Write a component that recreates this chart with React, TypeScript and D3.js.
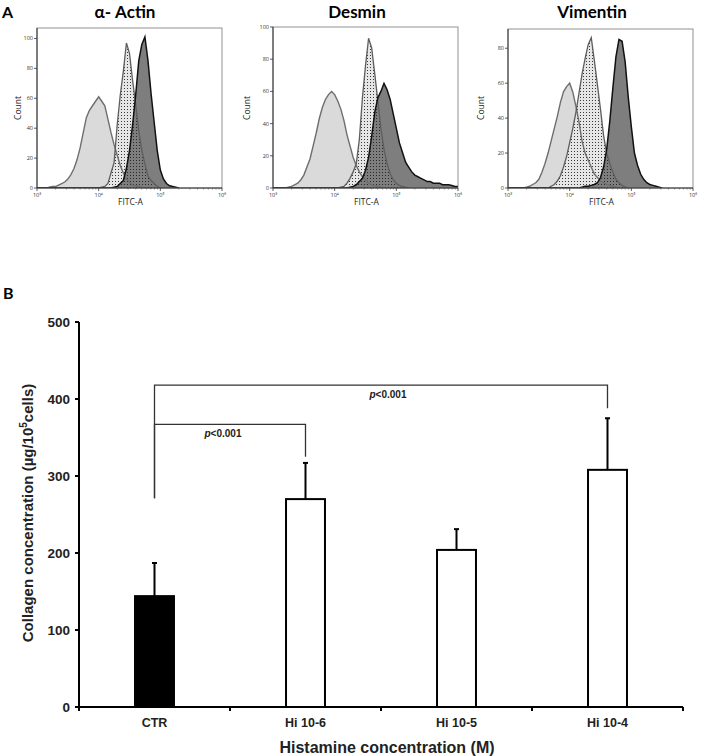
import * as d3 from "d3";

// ---- panel A: flow cytometry histograms (FITC-A, log10 bins) ----
const fluorBins = d3.range(0, 61).map((i) => 3 + i * 0.05);

const actinLight = [0, 0, 0, 0, 0.5, 1, 1, 2, 3, 4, 6, 9, 13, 19, 27, 37, 47, 52, 55, 58, 61, 58, 55, 46, 37, 29, 22, 15, 10, 6, 4, 2, 1.5, 1, 0.5, 0];
const actinDotted = [0, 0, 0, 0, 0, 0, 0, 0, 0, 0, 0, 0, 0, 0, 0, 0, 0, 0, 0, 0, 0, 0.5, 1, 3, 10, 17, 42, 62, 78, 97, 90, 72, 56, 38, 25, 16, 8, 5, 3, 1, 0];
const actinDark = [0, 0, 0, 0, 0, 0, 0, 0, 0, 0, 0, 0, 0, 0, 0, 0, 0, 0, 0, 0, 0, 0, 0, 0, 0, 0.5, 1, 3, 5, 13, 25, 42, 62, 85, 96, 101, 85, 63, 44, 25, 12, 6, 3, 1.5, 1, 0.5, 0];

const desminLight = [0, 0, 0, 0, 0, 0.5, 1, 2, 3, 5, 8, 13, 18, 26, 34, 43, 50, 55, 58, 60, 58, 54, 49, 42, 33, 26, 19, 14, 10, 7, 5, 3, 2, 1.5, 1, 0.5, 0];
const desminDotted = [0, 0, 0, 0, 0, 0, 0, 0, 0, 0, 0, 0, 0, 0, 0, 0, 0, 0, 0, 0, 0, 0, 0.5, 1, 3, 6, 10, 15, 30, 56, 76, 93, 87, 71, 54, 37, 24, 15, 9, 5, 3, 1.5, 1, 0.5, 0];
const desminDark = [0, 0, 0, 0, 0, 0, 0, 0, 0, 0, 0, 0, 0, 0, 0, 0, 0, 0, 0, 0, 0, 0, 0, 0, 0, 0.5, 1, 2, 4, 6, 11, 19, 32, 47, 56, 60, 65, 61, 55, 46, 37, 28, 22, 16, 13, 10, 8, 7, 6, 5, 4, 4, 3, 3, 3, 2, 2, 2, 1.5, 1, 1];

const vimentinLight = [0, 0, 0, 0, 0, 0, 0.5, 1, 2, 3, 5, 9, 14, 20, 27, 34, 41, 49, 55, 58, 60, 55, 47, 38, 27, 20, 16, 12, 8, 6, 4, 3, 2, 1.5, 1, 0.5, 0];
const vimentinDotted = [0, 0, 0, 0, 0, 0, 0, 0, 0, 0, 0, 0, 0, 0, 1, 2, 4, 7, 12, 18, 26, 34, 43, 54, 65, 74, 82, 86, 73, 59, 45, 30, 20, 14, 9, 5, 3, 1.5, 0.5, 0];
const vimentinDark = [0, 0, 0, 0, 0, 0, 0, 0, 0, 0, 0, 0, 0, 0, 0, 0, 0, 0, 0, 0, 0, 0, 0, 0, 0.5, 1, 1, 1.5, 2, 3, 6, 12, 22, 38, 57, 75, 85, 84, 72, 52, 35, 20, 13, 8, 5, 3, 2, 1.5, 1, 0.5, 0];

const panelTitles = ["α- Actin", "Desmin", "Vimentin"];
const panelYMax = [107, 100, 91];
const panelYTicks = [
  [0, 20, 40, 60, 80, 100],
  [0, 20, 40, 60, 80, 100],
  [0, 20, 40, 60, 80],
];
const decadeLabels = ["10³", "10⁴", "10⁵", "10⁶"];

// ---- panel B: collagen bar chart ----
const groups = ["CTR", "Hi 10-6", "Hi 10-5", "Hi 10-4"];
const collagenMean = [144, 270, 204, 308];
const collagenSD = [43, 47, 27, 67];
const yTicksB = [0, 100, 200, 300, 400, 500];

const bracketFrom = ["CTR", "CTR"];
const bracketTo = ["Hi 10-6", "Hi 10-4"];
const bracketLevel = [367, 418];
const bracketLeftFoot = [271, 271];
const bracketRightFoot = [325, 388];
const bracketLabel = ["p<0.001", "p<0.001"];

// layout (pixels)
const panelLeft = [37, 273, 508];
const panelTop = [28, 27, 29];
const panelW = 185;
const panelBottom = 188;
const titleX = [125, 357, 592];
const countX = [21, 250, 484];
const labelDx = [-7, 7];

const flowFont = "'Open Sans', 'DejaVu Sans', sans-serif";
const arial = "'Liberation Sans', Arial, sans-serif";
const headFont = "Lato, 'Open Sans', sans-serif";

function FlowPanel({ k, light, dotted, dark }: { k: number; light: number[]; dotted: number[]; dark: number[] }) {
  const x0 = panelLeft[k];
  const x = d3.scaleLinear().domain([3, 6]).range([x0, x0 + panelW]);
  const y = d3.scaleLinear().domain([0, panelYMax[k]]).range([panelBottom, panelTop[k]]);
  const area = d3
    .area<number>()
    .x((_, i) => x(fluorBins[i]))
    .y0(y(0))
    .y1((d) => y(d));
  const line = d3
    .line<number>()
    .x((_, i) => x(fluorBins[i]))
    .y((d) => y(d));
  const minor: number[] = [];
  [3, 4, 5].forEach((dec) => {
    for (let m = 2; m < 10; m++) minor.push(dec + Math.log10(m));
  });
  const cx = x0 + panelW / 2;

  return (
    <g>
      <text x={titleX[k]} y={17.5} textAnchor="middle" fontFamily={headFont} fontWeight="bold" fontSize={17}>
        {panelTitles[k]}
      </text>
      <clipPath id={`clip${k}`}>
        <rect x={x0} y={panelTop[k]} width={panelW} height={panelBottom - panelTop[k]} />
      </clipPath>
      <g clipPath={`url(#clip${k})`}>
        <path d={area(light) ?? ""} fill="#dadada" />
        <path d={area(dotted) ?? ""} fill="#e6e6e6" />
        <path d={area(dark) ?? ""} fill="#7e7e7e" />
        <path d={area(dotted) ?? ""} fill="url(#dots)" />
        <path d={line(light) ?? ""} fill="none" stroke="#6e6e6e" strokeWidth={1.4} />
        <path d={line(dotted) ?? ""} fill="none" stroke="#5e5e5e" strokeWidth={1.3} />
        <path d={line(dark) ?? ""} fill="none" stroke="#111" strokeWidth={1.5} />
      </g>
      <rect x={x0} y={panelTop[k]} width={panelW} height={panelBottom - panelTop[k]} fill="none" stroke="#777" strokeWidth={0.8} />
      <line x1={x0} x2={x0} y1={panelTop[k]} y2={panelBottom} stroke="#333" strokeWidth={1} />
      <line x1={x0} x2={x0 + panelW} y1={panelBottom} y2={panelBottom} stroke="#333" strokeWidth={1} />
      {panelYTicks[k].map((t) => (
        <g key={t}>
          <line x1={x0 - 3} x2={x0} y1={y(t)} y2={y(t)} stroke="#333" strokeWidth={0.8} />
          <text x={x0 - 4} y={y(t) + 2} textAnchor="end" fontFamily={flowFont} fontSize={5.5} fill="#333">
            {t}
          </text>
        </g>
      ))}
      {[3, 4, 5, 6].map((d, i) => (
        <g key={d}>
          <line x1={x(d)} x2={x(d)} y1={panelBottom} y2={panelBottom + 3} stroke="#333" strokeWidth={0.8} />
          <text x={x(d)} y={panelBottom + 9} textAnchor="middle" fontFamily={flowFont} fontSize={5.5} fill="#333">
            {decadeLabels[i]}
          </text>
        </g>
      ))}
      {minor.map((m) => (
        <line key={m} x1={x(m)} x2={x(m)} y1={panelBottom} y2={panelBottom + 1.6} stroke="#555" strokeWidth={0.6} />
      ))}
      <text
        transform={`translate(${countX[k]},108) rotate(-90)`}
        textAnchor="middle"
        fontFamily={flowFont}
        fontSize={8.5}
        fill="#222"
      >
        Count
      </text>
      <text x={cx + 1} y={205} textAnchor="middle" fontFamily={flowFont} fontSize={8.5} fill="#222">
        FITC-A
      </text>
    </g>
  );
}

function CollagenChart() {
  const x = d3.scaleBand<string>().domain(groups).range([79, 683]).paddingInner(0.742).paddingOuter(0.371);
  const y = d3.scaleLinear().domain([0, 500]).range([707, 322]);
  const xc = (g: string) => (x(g) ?? 0) + x.bandwidth() / 2;
  const step = x.step();
  const boundaries = d3.range(groups.length + 1).map((i) => 79 + i * step);

  return (
    <g fontFamily={arial}>
      <text x={3} y={299} fontFamily={headFont} fontWeight="bold" fontSize={16}>
        B
      </text>
      {/* significance brackets */}
      {bracketFrom.map((f, i) => {
        const xl = xc(f);
        const xr = xc(bracketTo[i]);
        return (
          <g key={i}>
            <path
              d={`M${xl},${y(bracketLeftFoot[i])}V${y(bracketLevel[i])}H${xr}V${y(bracketRightFoot[i])}`}
              fill="none"
              stroke="#333"
              strokeWidth={1.3}
            />
            <text x={(xl + xr) / 2 + labelDx[i]} y={y(bracketLevel[i]) + 13} textAnchor="middle" fontSize={10} fontWeight="bold" fill="#222">
              <tspan fontStyle="italic">p</tspan>
              {bracketLabel[i].slice(1)}
            </text>
          </g>
        );
      })}
      {/* error bars */}
      {groups.map((g, i) => (
        <g key={g}>
          <line x1={xc(g)} x2={xc(g)} y1={y(collagenMean[i])} y2={y(collagenMean[i] + collagenSD[i])} stroke="#000" strokeWidth={2} />
          <line x1={xc(g) - 2.5} x2={xc(g) + 2.5} y1={y(collagenMean[i] + collagenSD[i])} y2={y(collagenMean[i] + collagenSD[i])} stroke="#000" strokeWidth={2} />
        </g>
      ))}
      {/* bars */}
      {groups.map((g, i) => (
        <rect
          key={g}
          x={x(g)}
          y={y(collagenMean[i])}
          width={x.bandwidth()}
          height={y(0) - y(collagenMean[i])}
          fill={i === 0 ? "#000" : "#fff"}
          stroke="#000"
          strokeWidth={2}
        />
      ))}
      {/* y axis */}
      <line x1={79} x2={79} y1={y(500)} y2={y(0)} stroke="#000" strokeWidth={2} />
      {yTicksB.map((t) => (
        <g key={t}>
          <line x1={75} x2={79} y1={y(t)} y2={y(t)} stroke="#000" strokeWidth={2} />
          <text x={70} y={y(t) + 5} textAnchor="end" fontSize={13.5} fontWeight="bold" fill="#222">
            {t}
          </text>
        </g>
      ))}
      {/* x axis */}
      <line x1={79} x2={683} y1={y(0)} y2={y(0)} stroke="#000" strokeWidth={2} />
      {boundaries.map((b) => (
        <line key={b} x1={b} x2={b} y1={y(0)} y2={y(0) + 4} stroke="#000" strokeWidth={2} />
      ))}
      {groups.map((g) => (
        <text key={g} x={xc(g)} y={727} textAnchor="middle" fontSize={12.5} fontWeight="bold" fill="#222">
          {g}
        </text>
      ))}
      <text x={387} y={753} textAnchor="middle" fontSize={16} fontWeight="bold" fill="#222">
        Histamine concentration (M)
      </text>
      <text transform="translate(33,513) rotate(-90)" textAnchor="middle" fontSize={15} fontWeight="bold" fill="#222">
        Collagen concentration (µg/10
        <tspan fontSize={10} dy={-6}>
          5
        </tspan>
        <tspan dy={6}>cells)</tspan>
      </text>
    </g>
  );
}

export default function App() {
  return (
    <svg width={708} height={756} style={{ position: "absolute", left: 0, top: 0, background: "#fff" }}>
      <defs>
        <pattern id="dots" width={3} height={3} patternUnits="userSpaceOnUse">
          <circle cx={1.5} cy={1.5} r={0.55} fill="#1a1a1a" />
        </pattern>
      </defs>
      <rect width={708} height={756} fill="#fff" />
      <text x={2} y={18} fontFamily={headFont} fontWeight="bold" fontSize={16}>
        A
      </text>
      <FlowPanel k={0} light={actinLight} dotted={actinDotted} dark={actinDark} />
      <FlowPanel k={1} light={desminLight} dotted={desminDotted} dark={desminDark} />
      <FlowPanel k={2} light={vimentinLight} dotted={vimentinDotted} dark={vimentinDark} />
      <CollagenChart />
    </svg>
  );
}
